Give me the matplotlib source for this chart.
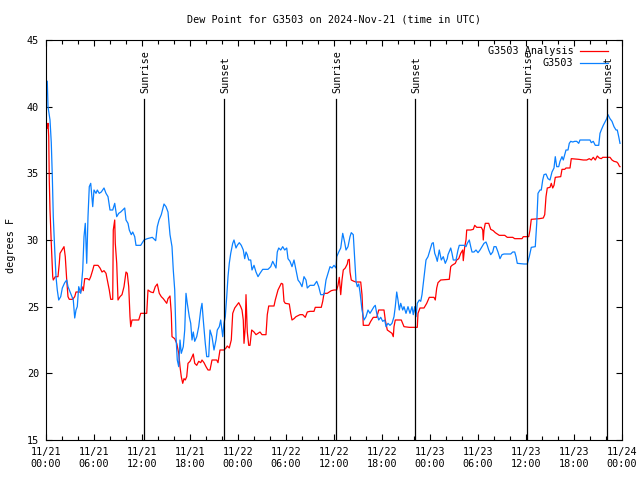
import matplotlib
matplotlib.use("Agg")
import matplotlib.pyplot as plt
from matplotlib.ticker import MultipleLocator, FixedLocator

# hours since 2024-11-21 00:00 UTC
analysis_hours = [0.16, 0.25, 0.34, 0.41, 0.5, 0.66, 0.84, 0.91, 1.16, 1.5, 1.66, 1.75, 2.0, 2.25, 2.41, 2.59,
                  2.75, 2.91, 3.34, 3.59, 3.75, 4.34, 4.5, 4.66, 4.84, 5.16, 5.41, 5.59, 5.84, 6.0, 6.5, 6.75,
                  7.0, 7.25, 7.5, 7.66, 7.91, 8.09, 8.34, 8.41, 8.59, 8.66, 8.84, 9.0, 9.25, 9.5, 9.75, 10.0,
                  10.16, 10.34, 10.5, 10.59, 10.75, 11.59, 11.84, 12.59, 12.75, 13.09, 13.41, 13.66, 13.91,
                  14.16, 14.41, 14.66, 14.91, 15.09, 15.25, 15.5, 15.66, 15.75, 16.09, 16.34, 16.59, 16.75,
                  16.91, 17.09, 17.25, 17.41, 17.59, 17.75, 18.0, 18.16, 18.41, 18.59, 18.84, 19.09, 19.34,
                  19.5, 19.75, 20.0, 20.25, 20.5, 20.75, 21.34, 21.5, 21.75, 22.25, 22.5, 22.66, 22.91, 23.16,
                  23.34, 23.59, 23.84, 24.09, 24.34, 24.5, 24.66, 24.75, 24.91, 25.0, 25.16, 25.34, 25.5,
                  25.71, 26.0, 26.25, 26.5, 26.75, 27.0, 27.5, 27.66, 27.84, 28.5, 28.66, 28.84, 29.0, 29.25,
                  29.41, 29.59, 29.75, 29.91, 30.41, 30.59, 30.75, 31.0, 31.25, 31.75, 32.09, 32.41, 32.66,
                  33.0, 33.5, 33.66, 34.41, 34.59, 34.75, 35.16, 35.66, 36.0, 36.34, 36.5, 36.66, 36.84, 37.0,
                  37.16, 37.41, 37.66, 37.75, 37.91, 38.0, 38.16, 38.5, 38.75, 39.34, 39.5, 39.66, 40.34,
                  40.59, 40.91, 41.34, 41.59, 42.25, 42.41, 42.66, 43.0, 43.25, 43.41, 43.5, 43.66, 44.41,
                  44.75, 45.41, 46.41, 46.5, 46.75, 47.25, 47.59, 47.91, 48.5, 48.66, 48.84, 49.0, 49.34,
                  50.41, 50.59, 50.75, 51.16, 51.34, 51.59, 51.84, 52.09, 52.16, 52.34, 52.5, 52.59, 53.09,
                  53.41, 53.59, 53.84, 54.41, 54.59, 54.66, 54.75, 54.91, 55.34, 55.59, 55.91, 56.16, 56.41,
                  56.66, 57.34, 57.66, 58.34, 58.59, 59.5, 59.66, 60.34, 60.5, 60.66, 61.66, 62.16, 62.34,
                  62.5, 62.66, 63.0, 63.16, 63.34, 63.5, 63.66, 64.34, 64.5, 64.84, 65.0, 65.5, 65.66, 66.59,
                  67.16, 67.59, 67.91, 68.16, 68.41, 68.66, 68.91, 69.16, 69.41, 69.59, 70.5, 70.75, 71.0,
                  71.34, 71.5, 71.66, 71.75]
analysis_dewpt = [38.4, 38.75, 37.75, 34.5, 32.25, 29.75, 27.25, 27.0, 27.25, 27.25, 28.25, 29.0, 29.25, 29.5,
                  28.75, 27.0, 25.75, 25.55, 25.55, 25.75, 26.1, 26.1, 26.5, 26.2, 27.1, 27.1, 27.0, 27.25,
                  27.75, 28.1, 28.1, 27.9, 27.6, 27.7, 27.5, 27.0, 26.25, 25.55, 25.55, 30.75, 31.5, 29.75,
                  28.25, 25.5, 25.75, 25.9, 26.5, 27.6, 27.5, 26.5, 24.25, 23.5, 24.0, 24.0, 24.5, 24.5, 26.25,
                  26.1, 26.05, 26.5, 26.7, 26.0, 25.75, 25.6, 25.4, 25.25, 25.6, 25.8, 24.5, 22.75, 22.6,
                  22.25, 21.5, 20.5, 19.75, 19.25, 19.6, 19.5, 19.75, 20.75, 20.9, 21.1, 21.45, 20.75, 20.6,
                  20.9, 20.8, 21.0, 20.8, 20.5, 20.25, 20.25, 21.0, 21.0, 20.8, 21.75, 21.75, 21.9, 22.05,
                  21.9, 22.5, 24.5, 24.9, 25.1, 25.3, 25.0, 24.75, 24.0, 22.25, 23.5, 25.9, 23.1, 22.1, 22.1,
                  23.25, 23.1, 22.9, 23.0, 23.1, 22.9, 22.9, 24.4, 25.05, 25.05, 25.5, 25.9, 26.25, 26.55,
                  26.75, 26.7, 25.4, 25.25, 25.2, 24.5, 24.0, 24.1, 24.25, 24.4, 24.4, 24.2, 24.6, 24.65,
                  24.65, 24.95, 24.95, 25.4, 26.0, 26.0, 26.2, 26.25, 26.25, 26.6, 27.2, 25.9, 27.0, 27.75,
                  27.9, 28.2, 28.5, 28.55, 27.6, 27.0, 26.9, 26.85, 26.85, 25.9, 23.6, 23.6, 23.9, 24.2, 24.2,
                  24.75, 24.75, 24.0, 23.25, 23.1, 23.0, 22.75, 23.5, 24.0, 24.0, 23.5, 23.45, 23.45, 24.5,
                  24.9, 24.9, 25.25, 25.7, 25.7, 25.5, 26.4, 26.8, 27.0, 27.05, 28.0, 28.1, 28.25, 28.5, 28.6,
                  29.0, 29.25, 28.45, 29.5, 30.0, 30.75, 30.75, 30.8, 31.1, 30.95, 30.95, 30.75, 30.0, 30.75,
                  31.25, 31.25, 30.8, 30.7, 30.55, 30.45, 30.35, 30.35, 30.2, 30.2, 30.1, 30.1, 30.25, 30.25,
                  30.75, 31.55, 31.6, 31.65, 31.9, 33.25, 33.9, 33.95, 34.25, 33.9, 34.1, 34.7, 34.75, 35.3,
                  35.3, 35.4, 35.4, 36.1, 36.05, 36.0, 36.0, 36.1, 36.0, 36.2, 36.0, 36.3, 36.15, 36.1, 36.2,
                  36.2, 36.0, 35.9, 35.85, 35.75, 35.55, 35.5]

station_hours = [0.16, 0.25, 0.5, 0.66, 0.79, 0.91, 1.09, 1.25, 1.41, 1.59, 1.84, 2.04, 2.34, 2.59, 2.75, 3.41,
                 3.59, 3.75, 3.91, 4.09, 4.34, 4.59, 4.75, 4.91, 5.09, 5.25, 5.41, 5.59, 5.84, 6.0, 6.25, 6.41,
                 6.66, 6.91, 7.25, 7.5, 7.75, 8.0, 8.34, 8.59, 8.84, 9.09, 9.34, 9.59, 9.84, 10.0, 10.25,
                 10.41, 10.66, 10.84, 11.09, 11.25, 11.84, 12.25, 12.66, 13.29, 13.71, 13.91, 14.13, 14.41,
                 14.75, 15.0, 15.25, 15.5, 15.75, 15.91, 16.09, 16.25, 16.41, 16.59, 16.75, 16.91, 17.16,
                 17.34, 17.5, 17.66, 17.91, 18.09, 18.25, 18.41, 18.59, 18.84, 19.09, 19.34, 19.5, 19.66,
                 19.91, 20.09, 20.34, 20.5, 20.75, 21.0, 21.25, 21.41, 21.66, 21.84, 22.09, 22.25, 22.41,
                 22.59, 22.75, 22.91, 23.09, 23.34, 23.5, 23.75, 23.91, 24.16, 24.41, 24.66, 24.84, 25.0,
                 25.16, 25.34, 25.59, 25.75, 26.0, 26.25, 26.5, 26.75, 27.09, 27.75, 28.09, 28.34, 28.59,
                 28.75, 28.91, 29.09, 29.34, 29.59, 29.84, 30.09, 30.25, 30.5, 30.75, 31.0, 31.25, 31.5,
                 31.75, 32.0, 32.25, 32.5, 32.66, 33.0, 33.5, 33.84, 34.09, 34.34, 34.75, 35.0, 35.25, 35.5,
                 35.75, 36.0, 36.25, 36.34, 36.59, 36.84, 37.09, 37.34, 37.5, 37.75, 38.0, 38.16, 38.41,
                 38.59, 38.75, 38.91, 39.09, 39.25, 39.5, 39.75, 40.0, 40.25, 40.5, 40.75, 41.0, 41.16,
                 41.34, 41.59, 41.84, 42.09, 42.34, 42.5, 42.75, 43.0, 43.25, 43.5, 43.66, 43.84, 44.0,
                 44.16, 44.34, 44.59, 44.75, 45.0, 45.25, 45.5, 45.75, 45.91, 46.09, 46.25, 46.41, 46.66,
                 46.84, 47.0, 47.16, 47.34, 47.5, 47.75, 48.0, 48.25, 48.41, 48.59, 48.75, 48.91, 49.16,
                 49.41, 49.66, 49.91, 50.16, 50.25, 50.59, 50.75, 50.91, 51.25, 51.5, 51.66, 52.25, 52.5,
                 52.66, 52.91, 53.09, 53.25, 53.5, 53.75, 54.0, 54.25, 54.5, 54.75, 55.0, 55.16, 55.34,
                 55.59, 55.84, 56.0, 56.25, 56.5, 56.75, 57.0, 57.25, 58.09, 58.34, 58.59, 58.75, 58.91,
                 59.75, 60.16, 60.41, 60.66, 61.16, 61.34, 61.5, 61.75, 61.91, 62.09, 62.25, 62.5, 62.75,
                 63.0, 63.25, 63.5, 63.66, 63.84, 64.09, 64.25, 64.5, 64.66, 64.84, 65.0, 65.25, 65.41,
                 65.59, 65.84, 66.09, 66.34, 66.59, 66.75, 68.0, 68.16, 68.41, 68.66, 69.09, 69.25, 69.41,
                 69.66, 69.91, 70.09, 70.25, 70.5, 70.75, 71.0, 71.25, 71.41, 71.59, 71.75]
station_dewpt = [41.9, 40.0, 39.0, 37.3, 34.75, 31.75, 29.25, 27.25, 26.25, 25.5, 25.75, 26.4, 26.8, 27.0, 26.5,
                 25.5, 24.15, 24.75, 25.0, 26.5, 26.0, 27.75, 30.25, 31.25, 28.25, 31.75, 34.0, 34.25, 32.5,
                 33.75, 33.5, 33.75, 33.5, 33.6, 33.9, 33.5, 33.25, 32.25, 32.25, 32.75, 31.75, 32.0, 32.1,
                 32.25, 32.4, 31.5, 31.25, 30.75, 30.4, 30.6, 30.25, 29.6, 29.6, 30.0, 30.1, 30.2, 29.95,
                 31.0, 31.5, 31.9, 32.7, 32.5, 32.1, 30.4, 29.5, 27.75, 26.25, 22.75, 21.0, 20.5, 22.5,
                 21.5, 22.0, 23.25, 26.0, 25.25, 24.25, 23.75, 22.5, 23.1, 22.4, 22.75, 23.5, 24.75, 25.25,
                 24.0, 22.25, 21.25, 21.25, 23.25, 22.75, 21.75, 22.5, 23.25, 23.5, 24.0, 22.75, 23.75,
                 24.25, 25.75, 27.25, 28.25, 29.0, 29.75, 30.0, 29.4, 29.6, 29.8, 29.6, 29.25, 28.6, 29.1,
                 28.9, 28.5, 28.5, 27.75, 28.1, 27.6, 27.25, 27.5, 27.8, 27.8, 28.0, 28.4, 28.1, 27.9, 29.1,
                 29.4, 29.25, 29.5, 29.25, 29.4, 28.6, 28.4, 28.0, 28.5, 27.75, 27.0, 26.8, 26.5, 27.25,
                 27.0, 26.4, 26.6, 26.6, 26.9, 26.5, 25.9, 25.9, 27.0, 27.5, 28.0, 27.9, 28.1, 27.9, 28.75,
                 29.1, 29.4, 30.5, 29.8, 29.25, 29.5, 30.25, 30.55, 30.4, 28.5, 26.9, 26.5, 26.7, 26.1,
                 24.75, 24.0, 24.25, 24.75, 24.5, 24.75, 25.0, 25.1, 24.5, 24.0, 24.2, 23.9, 24.0, 23.5,
                 23.75, 23.6, 23.75, 24.25, 25.0, 26.1, 25.5, 24.75, 25.25, 24.75, 25.0, 24.5, 25.0, 24.5,
                 25.0, 24.4, 25.0, 24.25, 25.25, 25.5, 25.4, 25.9, 26.75, 27.75, 28.5, 28.75, 29.25, 29.75,
                 29.8, 29.0, 28.75, 28.4, 29.25, 28.5, 28.75, 28.25, 28.6, 28.9, 29.4, 29.0, 28.5, 28.5,
                 29.25, 29.6, 29.6, 29.5, 29.75, 30.0, 29.5, 29.1, 29.1, 29.25, 29.05, 29.25, 29.5, 29.75,
                 29.85, 29.6, 29.25, 28.9, 29.1, 29.5, 29.5, 29.1, 28.6, 28.9, 28.95, 28.95, 29.1, 29.1,
                 28.75, 28.25, 28.2, 28.2, 28.75, 29.45, 29.5, 31.25, 33.5, 33.75, 33.75, 34.5, 34.9, 34.95,
                 34.6, 34.5, 35.1, 35.4, 36.25, 35.5, 35.5, 35.9, 36.25, 36.0, 36.4, 36.75, 36.75, 37.25,
                 37.4, 37.35, 37.4, 37.4, 37.25, 37.5, 37.5, 37.3, 37.4, 37.1, 37.1, 38.0, 38.25, 38.6, 38.9,
                 39.1, 39.4, 39.1, 38.9, 38.5, 38.25, 38.25, 37.75, 37.25]

sun_hours = [12.25, 22.25, 36.25, 46.125, 60.125, 70.125]
sun_labels = ["Sunrise", "Sunset", "Sunrise", "Sunset", "Sunrise", "Sunset"]

tick_hours = list(range(0, 73, 6))
tick_labels = ["11/21\n00:00", "11/21\n06:00", "11/21\n12:00", "11/21\n18:00",
               "11/22\n00:00", "11/22\n06:00", "11/22\n12:00", "11/22\n18:00",
               "11/23\n00:00", "11/23\n06:00", "11/23\n12:00", "11/23\n18:00",
               "11/24\n00:00"]

FONT = "DejaVu Sans Mono"
FS = 7.3

fig = plt.figure(figsize=(6.4, 4.8), dpi=100)
ax = fig.add_axes([46 / 640, 40 / 480, 576 / 640, 400 / 480])

ax.plot(analysis_hours, analysis_dewpt, color="#ff0000", lw=0.9, label="G3503 Analysis")
ax.plot(station_hours, station_dewpt, color="#0a80ff", lw=0.9, label="G3503")

# sunrise / sunset markers
for h, lab in zip(sun_hours, sun_labels):
    ax.plot([h, h], [15, 40.55], color="black", lw=0.9)
    ax.text(h + 0.12, 41.0, lab, rotation=90, ha="center", va="bottom",
            fontsize=FS, family=FONT)

ax.set_xlim(0, 72)
ax.set_ylim(15, 45)
ax.xaxis.set_major_locator(FixedLocator(tick_hours))
ax.xaxis.set_minor_locator(MultipleLocator(2))
ax.set_xticklabels(tick_labels, fontsize=FS, family=FONT, linespacing=1.25)
ax.yaxis.set_major_locator(MultipleLocator(5))
for lab in ax.get_yticklabels():
    lab.set_fontsize(FS)
    lab.set_family(FONT)
ax.tick_params(which="both", direction="in", top=True, right=True, width=0.8)
ax.tick_params(which="major", length=4, pad=5)
ax.tick_params(which="minor", length=3)
for s in ax.spines.values():
    s.set_linewidth(0.8)

ax.legend(loc="upper right", bbox_to_anchor=(1 - 8 / 576, 1.0), frameon=False,
          markerfirst=False, handlelength=2.8, handletextpad=0.6,
          labelspacing=0.2, borderaxespad=0.2,
          prop={"family": FONT, "size": FS})

fig.text(334 / 640, 1 - 19 / 480, "Dew Point for G3503 on 2024-Nov-21 (time in UTC)",
         ha="center", va="center", fontsize=FS, family=FONT)
fig.text(11 / 640, 1 - 245 / 480, "degrees F", rotation=90, ha="center", va="center",
         fontsize=FS, family=FONT)

fig.savefig("out.png", dpi=100)
